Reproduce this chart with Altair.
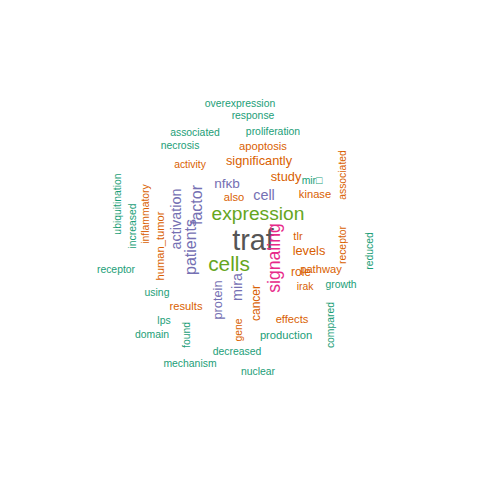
import pandas as pd
import altair as alt

T, O, P, K, G, D = "#1B9E77", "#D95F02", "#7570B3", "#E7298A", "#66A61E", "#555555"

words = ["overexpression", "response", "associated", "proliferation", "necrosis", "apoptosis",
         "activity", "significantly", "study", "nfκb", "cell", "mir□", "kinase", "associated",
         "receptor", "expression", "also", "factor", "activation", "inflammatory", "increased",
         "ubiquitination", "traf", "cells", "patients", "human_tumor", "tlr", "levels", "signaling",
         "pathway", "reduced", "receptor", "growth", "irak", "role", "using", "mira", "protein",
         "results", "cancer", "gene", "effects", "lps", "compared", "domain", "production",
         "found", "decreased", "mechanism", "nuclear"]
px = [240, 253, 195, 273, 180, 263, 190, 259, 286, 227, 264, 312, 315, 343, 343, 258, 234, 197,
      177, 146, 133, 118, 253, 229, 191, 161, 298, 309, 275, 321, 370, 116, 341, 305, 301, 157,
      238, 218, 186, 256, 239, 292, 164, 331, 152, 286, 187, 237, 190, 258]
py = [104, 116, 133, 132, 146, 147, 165, 161, 177, 184, 196, 181, 195, 175, 245, 214, 198, 205,
      219, 214, 226, 204, 241, 265, 247, 246, 237, 251, 258, 270, 251, 270, 285, 287, 272, 293,
      287, 300, 307, 303, 330, 320, 321, 325, 335, 336, 335, 352, 364, 372]
sizes = [13, 13, 13, 13, 13, 14, 13, 16, 16, 17, 18, 13, 14, 13, 13, 24, 14, 20, 18, 13, 13, 13,
         36, 26, 20, 14, 14, 16, 22, 14, 13, 13, 13, 13, 15, 13, 18, 16, 14, 15, 13, 14, 13, 13,
         13, 14, 13, 13, 13, 13]
colors = [T, T, T, T, T, O, O, O, O, P, P, T, O, O, O, G, O, P, P, O, T, T, D, G, P, O, O, O, K,
          O, T, T, T, O, O, T, P, P, O, O, O, O, T, T, T, T, T, T, T, T]
vertical = {"associated2", "receptor1", "factor", "activation", "inflammatory", "increased",
            "ubiquitination", "patients", "human_tumor", "signaling", "reduced", "mira", "protein",
            "cancer", "gene", "compared", "found"}

rows = []
seen = {}
for w, x, y, s, c in zip(words, px, py, sizes, colors):
    seen[w] = seen.get(w, 0) + 1
    key = w + str(seen[w]) if w in ("associated", "receptor") else w
    rows.append({"word": w, "x": x, "y": y, "size": s, "color": c,
                 "angle": 270 if key in vertical else 0})
df = pd.DataFrame(rows)

chart = alt.Chart(df).mark_text(font="Liberation Sans", baseline="middle", align="center").encode(
    x=alt.X("x:Q", scale=alt.Scale(domain=[8, 472]), axis=None),
    y=alt.Y("y:Q", scale=alt.Scale(domain=[472, 8]), axis=None),
    text="word:N",
    size=alt.Size("size:Q", scale=alt.Scale(type="linear", domain=[10, 40], range=[8, 32]),
                  legend=None),
    color=alt.Color("color:N", scale=None),
    angle=alt.Angle("angle:Q", scale=None),
).properties(width=464, height=464, padding=0).configure_view(stroke=None)

chart.save("out.html", embed_options={"renderer": "svg", "actions": False})
